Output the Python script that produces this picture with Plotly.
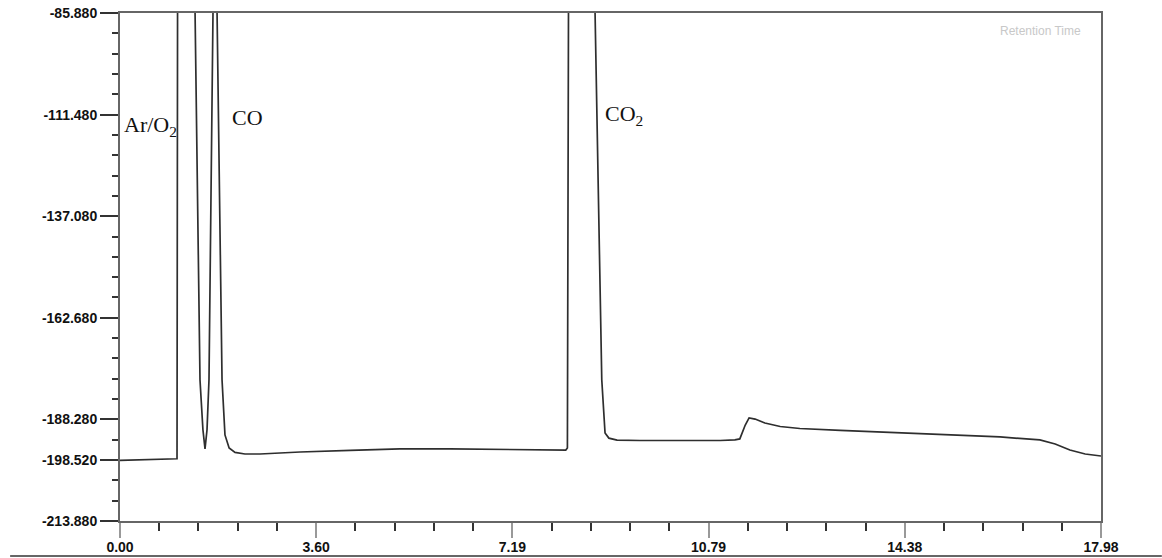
import plotly.graph_objects as go

# Retention time (min) and detector signal
time = [0.00, 0.55, 1.01, 1.045, 1.055, 1.22, 1.375, 1.466, 1.52, 1.558, 1.595,
        1.631, 1.705, 1.74, 1.778, 1.870, 1.924, 2.00, 2.108, 2.29, 2.566,
        3.30, 4.22, 5.13, 6.05, 6.96, 7.70, 8.10, 8.17, 8.20, 8.22, 8.47,
        8.706, 8.83, 8.89, 8.96, 9.11, 9.53, 10.26, 11.00, 11.27, 11.36,
        11.46, 11.53, 11.64, 11.82, 12.10, 12.46, 13.20, 14.30, 15.21,
        16.13, 16.86, 17.14, 17.41, 17.69, 17.98]
signal = [-198.6, -198.4, -198.3, -198.2, -85.0, -80.0, -85.0, -178.3, -190.9, -195.7, -190.9,
          -178.3, -85.0, -80.0, -85.0, -178.3, -192.2, -195.5, -196.6, -197.0, -197.0,
          -196.5, -196.1, -195.73, -195.73, -195.85, -195.98, -196.1, -196.0, -195.5, -85.0, -80.0,
          -85.0, -178.3, -191.7, -193.0, -193.5, -193.6, -193.65, -193.6, -193.45, -193.2,
          -189.7, -187.92, -188.2, -189.2, -190.07, -190.57, -191.07, -191.7, -192.2,
          -192.7, -193.46, -194.47, -195.98, -196.99, -197.5]

y_tickvals = [-85.880, -111.480, -137.080, -162.680, -188.280, -198.520, -213.880]
y_ticktext = ["-85.880", "-111.480", "-137.080", "-162.680", "-188.280", "-198.520", "-213.880"]
x_tickvals = [0.0, 3.596, 7.192, 10.788, 14.384, 17.98]
x_ticktext = ["0.00", "3.60", "7.19", "10.79", "14.38", "17.98"]

peak_labels = ["Ar/O<sub>2</sub>", "CO", "CO<sub>2</sub>"]
peak_label_x = [0.03, 2.02, 8.85]
peak_label_y = [-114.3, -112.3, -111.6]

fig = go.Figure()
fig.add_trace(go.Scatter(x=time, y=signal, mode="lines",
                         line=dict(color="#2e2e2e", width=1.7), showlegend=False))

for txt, lx, ly in zip(peak_labels, peak_label_x, peak_label_y):
    fig.add_annotation(x=lx, y=ly, text=txt, showarrow=False, xanchor="left", yanchor="middle",
                       font=dict(family="Liberation Serif", size=22, color="#111111"))

fig.add_annotation(xref="paper", yref="paper", x=0.982, y=0.965, text="Retention Time",
                   showarrow=False, xanchor="right", yanchor="middle",
                   font=dict(family="Liberation Sans", size=12, color="#c8c8c8"))

fig.add_shape(type="line", xref="paper", yref="paper", x0=-0.112, x1=1.062, y0=-0.069, y1=-0.069,
              line=dict(color="#666666", width=2))

tickfont = dict(family="Liberation Sans", size=14, color="#111111", weight="bold")

fig.update_xaxes(range=[0, 17.98], tickmode="array", tickvals=x_tickvals, ticktext=x_ticktext,
                 ticks="outside", ticklen=15, tickwidth=1.5, tickcolor="#999999",
                 ticklabelstandoff=-3,
                 showline=True, linecolor="#666666", linewidth=2, mirror=True,
                 showgrid=False, zeroline=False, automargin=False, tickfont=tickfont,
                 minor=dict(tickmode="linear", tick0=0, dtick=0.7192, ticks="outside", ticklen=8,
                            tickwidth=1.5, tickcolor="#333333", showgrid=False))
fig.update_yaxes(range=[-213.88, -85.88], tickmode="array", tickvals=y_tickvals, ticktext=y_ticktext,
                 ticks="outside", ticklen=18, tickwidth=1.5, tickcolor="#333333",
                 showline=True, linecolor="#666666", linewidth=2, mirror=True,
                 showgrid=False, zeroline=False, automargin=False, tickfont=tickfont,
                 minor=dict(tickmode="linear", tick0=-85.88, dtick=5.12, ticks="outside", ticklen=6,
                            tickwidth=1.5, tickcolor="#333333", showgrid=False))

fig.update_layout(width=1162, height=558, margin=dict(l=120, r=61, t=13, b=37),
                  plot_bgcolor="white", paper_bgcolor="white")

fig.write_html("out.html")
